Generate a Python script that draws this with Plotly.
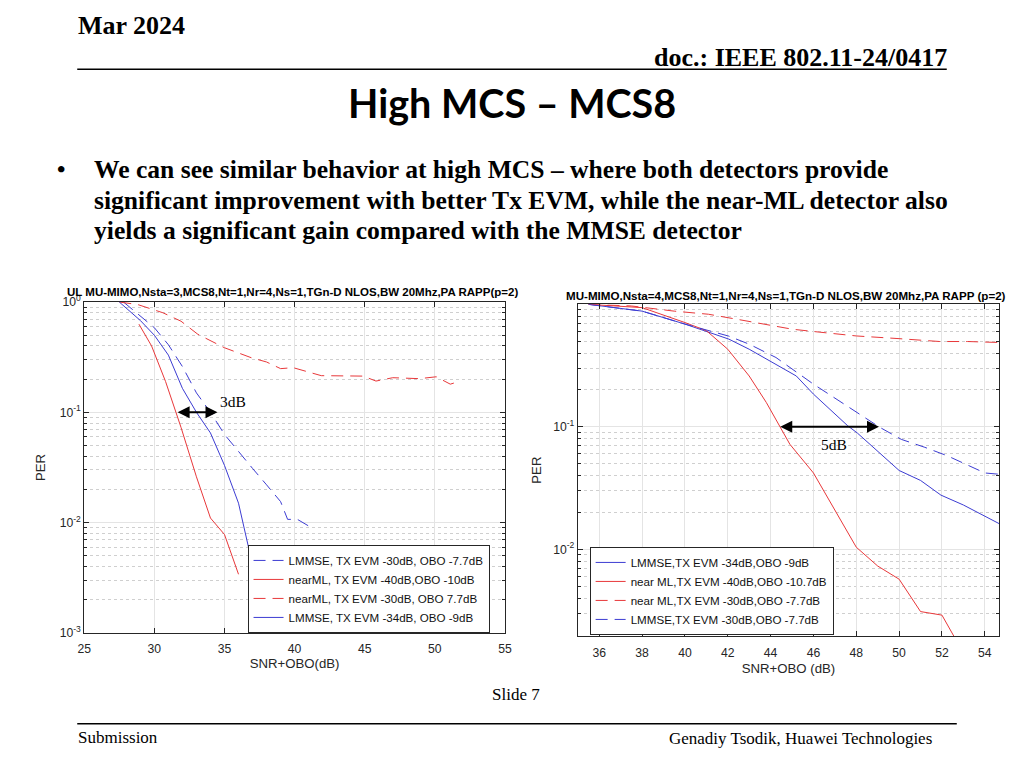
import plotly.graph_objects as go
import math

# ---------------- data ----------------
# Left chart: UL MU-MIMO, Nsta=3
L_x_lmmse30 = [27.8, 29, 30, 31, 32, 33, 34, 35, 36, 37, 38, 39, 39.5, 40.2, 41.2]
L_per_lmmse30 = [1.0, 0.74, 0.585, 0.41, 0.26, 0.15, 0.10, 0.063, 0.044, 0.031, 0.022, 0.0155, 0.0107, 0.0107, 0.009]

L_x_nearml40 = [28.9, 29.8, 30.8, 31.9, 33.0, 34.0, 35.0, 36.0]
L_per_nearml40 = [0.63, 0.40, 0.19, 0.073, 0.026, 0.011, 0.0078, 0.0034]

L_x_nearml30 = [27.5, 28.8, 30.6, 31.9, 33.1, 35.0, 36.9, 38.0, 39.0, 39.9, 41.9, 44.9, 45.8, 47.0, 48.9, 50.1, 51.1, 51.7]
L_per_nearml30 = [1.0, 0.95, 0.80, 0.67, 0.51, 0.385, 0.313, 0.286, 0.249, 0.254, 0.215, 0.213, 0.192, 0.206, 0.202, 0.21, 0.18, 0.19]

L_x_lmmse34 = [27.5, 29.0, 30.0, 31.0, 32.0, 33.0, 34.0, 35.0, 36.0, 36.8, 37.3]
L_per_lmmse34 = [1.0, 0.68, 0.50, 0.33, 0.165, 0.10, 0.065, 0.033, 0.015, 0.0053, 0.0028]

L_names = ["LMMSE, TX EVM -30dB, OBO -7.7dB", "nearML, TX EVM -40dB,OBO -10dB",
           "nearML, TX EVM -30dB, OBO 7.7dB", "LMMSE, TX EVM -34dB, OBO -9dB"]

# Right chart: MU-MIMO, Nsta=4
R_x_lmmse34 = [35.5, 38.0, 40.0, 41.1, 42.05, 43.0, 44.2, 45.2, 46.0, 47.6, 48.05, 49.0, 50.0, 51.0, 51.95, 53.0, 54.0, 54.67]
R_per_lmmse34 = [1.0, 0.88, 0.69, 0.59, 0.52, 0.43, 0.324, 0.26, 0.185, 0.102, 0.089, 0.0634, 0.044, 0.0365, 0.0277, 0.023, 0.0187, 0.0162]

R_x_nearml40 = [35.5, 38.0, 40.0, 41.0, 42.0, 43.0, 43.8, 44.4, 44.9, 46.0, 47.0, 48.0, 49.0, 50.0, 51.0, 52.0, 52.55]
R_per_nearml40 = [1.0, 0.94, 0.71, 0.61, 0.43, 0.26, 0.158, 0.102, 0.072, 0.042, 0.021, 0.0104, 0.0073, 0.0057, 0.0031, 0.0029, 0.00196]

R_x_nearml30 = [35.5, 37.5, 39.5, 41.1, 42.4, 43.6, 45.0, 46.0, 48.0, 49.9, 51.9, 53.2, 54.67]
R_per_nearml30 = [1.0, 0.97, 0.88, 0.83, 0.757, 0.69, 0.627, 0.60, 0.552, 0.526, 0.497, 0.497, 0.488]

R_x_lmmse30 = [35.5, 38.0, 40.0, 41.1, 42.05, 43.0, 44.25, 46.0, 47.1, 48.05, 49.1, 50.1, 51.2, 52.25, 53.3, 54.0, 54.67]
R_per_lmmse30 = [1.0, 0.88, 0.69, 0.61, 0.55, 0.473, 0.368, 0.223, 0.168, 0.131, 0.099, 0.079, 0.068, 0.058, 0.048, 0.042, 0.041]

R_names = ["LMMSE,TX EVM -34dB,OBO -9dB", "near ML,TX EVM -40dB,OBO -10.7dB",
           "near ML,TX EVM -30dB,OBO -7.7dB", "LMMSE,TX EVM -30dB,OBO -7.7dB"]

# ticks
L_xticks = [25, 30, 35, 40, 45, 50, 55]
L_yticks = [0.001, 0.01, 0.1, 1]
L_yticktext = ["10<sup>-3</sup>", "10<sup>-2</sup>", "10<sup>-1</sup>", "10<sup>0</sup>"]
R_xticks = [36, 38, 40, 42, 44, 46, 48, 50, 52, 54]
R_yticks = [0.01, 0.1]
R_yticktext = ["10<sup>-2</sup>", "10<sup>-1</sup>"]

# gain arrows (x start, x end, PER level) and labels
L_arrow = (31.55, 34.5, 0.1)
L_gain_label = ("3dB", 35.6, 0.126)
R_arrow = (44.38, 49.06, 0.1)
R_gain_label = ("5dB", 46.94, 0.0723)

TITLE_L = "UL MU-MIMO,Nsta=3,MCS8,Nt=1,Nr=4,Ns=1,TGn-D NLOS,BW 20Mhz,PA RAPP(p=2)"
TITLE_R = "MU-MIMO,Nsta=4,MCS8,Nt=1,Nr=4,Ns=1,TGn-D NLOS,BW 20Mhz,PA RAPP (p=2)"

# ---------------- figure ----------------
# The page keeps its 8px body margin, so the figure is 1008x752 and the page is 1024x768.
OFF = 8
W, H = 1024 - 2 * OFF, 768 - 2 * OFF
SX, SY = 1024 / W, 768 / H   # the photographed page comes back slightly reduced
def px(x):
    return ((x - OFF) * SX - OFF) / W
def py(y):
    return 1 - ((y - OFF) * SY - OFF) / H

RED = '#e8383a'
BLUE = '#3c3cd2'
DASH = '12px,7px'
AX = '#262626'

fig = go.Figure()

left = [
    (L_x_lmmse30, L_per_lmmse30, BLUE, DASH, L_names[0]),
    (L_x_nearml40, L_per_nearml40, RED, 'solid', L_names[1]),
    (L_x_nearml30, L_per_nearml30, RED, DASH, L_names[2]),
    (L_x_lmmse34, L_per_lmmse34, BLUE, 'solid', L_names[3]),
]
for xs, ys, c, d, n in left:
    fig.add_trace(go.Scatter(x=xs, y=ys, mode='lines', name=n,
                             line=dict(color=c, width=1, dash=d),
                             xaxis='x', yaxis='y', legend='legend'))

right = [
    (R_x_lmmse34, R_per_lmmse34, BLUE, 'solid', R_names[0]),
    (R_x_nearml40, R_per_nearml40, RED, 'solid', R_names[1]),
    (R_x_nearml30, R_per_nearml30, RED, DASH, R_names[2]),
    (R_x_lmmse30, R_per_lmmse30, BLUE, DASH, R_names[3]),
]
for xs, ys, c, d, n in right:
    fig.add_trace(go.Scatter(x=xs, y=ys, mode='lines', name=n,
                             line=dict(color=c, width=1, dash=d),
                             xaxis='x2', yaxis='y2', legend='legend2'))

tickfont = dict(family='Liberation Sans, Arial', size=12.2, color=AX)
common = dict(showline=True, linecolor=AX, linewidth=1, mirror='ticks',
              ticks='inside', ticklen=5, tickcolor=AX, tickfont=tickfont,
              showgrid=True, gridcolor='#e4e4e4', gridwidth=1, zeroline=False)
minor = dict(dtick='D1', showgrid=True, gridcolor='#cfcfcf', griddash='dot',
             ticks='inside', ticklen=3, tickcolor=AX)
titlefont = dict(family='Liberation Sans, Arial', size=13.2, color=AX)
legfont = dict(family='Liberation Sans, Arial', size=11.6, color='#111')

fig.update_layout(
    width=W, height=H, autosize=False,
    margin=dict(l=0, r=0, t=0, b=0),
    paper_bgcolor='white', plot_bgcolor='white',
    xaxis=dict(domain=[px(85), px(505)], range=[25, 55], tickvals=L_xticks,
               anchor='y', ticklabelstandoff=4,
               title=dict(text='SNR+OBO(dB)', font=titlefont, standoff=4), **common),
    yaxis=dict(domain=[py(632), py(301)], type='log', range=[-3, 0],
               tickvals=L_yticks, ticktext=L_yticktext, anchor='x', minor=minor,
               title=dict(text='PER', font=titlefont, standoff=11), **common),
    xaxis2=dict(domain=[px(577.7), px(998.3)], range=[35, 54.67], tickvals=R_xticks,
                anchor='y2', ticklabelstandoff=5,
                title=dict(text='SNR+OBO (dB)', font=titlefont, standoff=5), **common),
    yaxis2=dict(domain=[py(635), py(303.3)], type='log', range=[-2.707, 0],
                tickvals=R_yticks, ticktext=R_yticktext, anchor='x2', minor=minor,
                title=dict(text='PER', font=titlefont, standoff=8), **common),
    legend=dict(x=px(248), y=py(544), xanchor='left', yanchor='top',
                bordercolor=AX, borderwidth=1, bgcolor='white', tracegroupgap=0,
                font=legfont),
    legend2=dict(x=px(589.5), y=py(546), xanchor='left', yanchor='top',
                 bordercolor=AX, borderwidth=1, bgcolor='white', tracegroupgap=0,
                 font=legfont),
    showlegend=True,
)

ann = []
# gain arrows
for (xa, xb, lvl), xr, yr in [(L_arrow, 'x', 'y'), (R_arrow, 'x2', 'y2')]:
    ann.append(dict(xref=xr, yref=yr, axref=xr, ayref=yr, x=xb, y=math.log10(lvl),
                    ax=xa, ay=math.log10(lvl), text='', showarrow=True,
                    arrowhead=2, startarrowhead=2, arrowside='end+start',
                    arrowwidth=2, arrowsize=1.2, startarrowsize=1.2, arrowcolor='black'))
for (t, gx, gy), xr, yr in [(L_gain_label, 'x', 'y'), (R_gain_label, 'x2', 'y2')]:
    ann.append(dict(xref=xr, yref=yr, x=gx, y=math.log10(gy), text=t, showarrow=False,
                    font=dict(family='Liberation Serif, Times New Roman', size=15.5, color='black')))

# chart titles
ann.append(dict(xref='paper', yref='paper', x=px(293), y=py(291), text='<b>' + TITLE_L + '</b>',
                showarrow=False, xanchor='center', yanchor='middle',
                font=dict(family='Liberation Sans, Arial', size=11.5, color='black')))
ann.append(dict(xref='paper', yref='paper', x=px(786), y=py(294), text='<b>' + TITLE_R + '</b>',
                showarrow=False, xanchor='center', yanchor='middle',
                font=dict(family='Liberation Sans, Arial', size=11.6, color='black')))

# slide text
serif = 'Liberation Serif, Times New Roman'
def txt(x, y, t, size, anchor='left', bold=False, family=serif):
    ann.append(dict(xref='paper', yref='paper', x=px(x), y=py(y),
                    text=('<b>%s</b>' % t) if bold else t, showarrow=False,
                    xanchor=anchor, yanchor='middle',
                    font=dict(family=family, size=size, color='black')))

txt(77, 24, 'Mar 2024', 26, bold=True)
txt(948, 56, 'doc.: IEEE 802.11-24/0417', 26, anchor='right', bold=True)
txt(512, 101, 'High MCS – MCS8', 39.5, anchor='center', bold=True, family='Lato, Carlito, Calibri')
txt(56, 168, '•', 24, bold=True)
txt(93, 168, 'We can see similar behavior at high MCS – where both detectors provide', 25.6, bold=True)
txt(93, 199, 'significant improvement with better Tx EVM, while the near-ML detector also', 25.6, bold=True)
txt(93, 229, 'yields a significant gain compared with the MMSE detector', 25.6, bold=True)
txt(516, 694, 'Slide 7', 17, anchor='center')
txt(77, 737, 'Submission', 17)
txt(933, 738, 'Genadiy Tsodik, Huawei Technologies', 17, anchor='right')

fig.update_layout(annotations=ann)

fig.update_layout(shapes=[
    dict(type='line', xref='paper', yref='paper', x0=px(78), x1=px(946), y0=py(68), y1=py(68),
         line=dict(color='black', width=1.5)),
    dict(type='line', xref='paper', yref='paper', x0=px(78), x1=px(956), y0=py(723), y1=py(723),
         line=dict(color='black', width=1.5)),
])

fig.write_html("out.html", config={'displayModeBar': False})
